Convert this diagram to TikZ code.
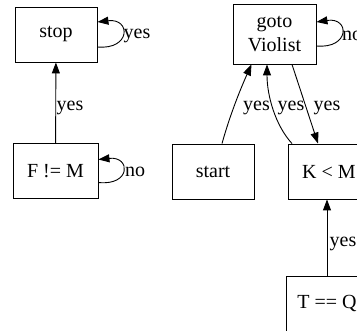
\documentclass[tikz,border=0pt]{standalone}
\usepackage{fontspec}
\setmainfont{Liberation Serif}
\usetikzlibrary{arrows.meta,calc}
\begin{document}
\begin{tikzpicture}[x=1pt,y=-1pt,
  box/.style={draw,line width=0.9pt,minimum width=82pt,minimum height=55pt,inner sep=0pt,font=\fontsize{20}{24}\selectfont,align=center},
  lbl/.style={inner sep=0pt,font=\fontsize{20}{22}\selectfont},
  edge/.style={line width=0.9pt,-{Triangle[length=11pt,width=8pt]}}]
\useasboundingbox (0,0) rectangle (357,331);
\node[box] (stop) at (56,34.5) {stop};
\node[box,minimum width=85pt] (fm) at (55.5,171) {F != M};
\node[box,minimum height=60pt,minimum width=83pt] (goto) at (274.5,34) {goto\\Violist};
\node[box] (start) at (213,171.5) {start};
\node[box] (km) at (329,171.5) {K \textless{} M};
\node[box] (tq) at (327,303.5) {T == Q};
% edges
\draw[edge] (fm) -- (stop);
\node[lbl] (l0) at (70,108) {yes};
\draw[edge] ($(stop.east)+(0,12.5)$) .. controls (131,50) and (131,18) .. ($(stop.east)+(0,-12.5)$);
\node[lbl] (l1) at (137,36) {yes};
\draw[edge] ($(fm.east)+(0,11.5)$) .. controls (131,186) and (131,156) .. ($(fm.east)+(0,-11.5)$);
\node[lbl] (l2) at (135,172) {no};
\draw[edge] ($(goto.east)+(0,12)$) .. controls (350,49) and (350,17) .. ($(goto.east)+(0,-12)$);
\node[lbl] (l3) at (352,36) {no};
\draw[edge] ($(start.north)+(9,0)$) .. controls (230,115) and (240,90) .. ($(goto.south)+(-23,0)$);
\node[lbl] (l4) at (256.5,108) {yes};
\draw[edge] ($(km.north)+(-37,0)$) .. controls (275,125) and (267,95) .. ($(goto.south)+(-7.5,0)$);
\node[lbl] (l5) at (291,108) {yes};
\draw[edge] ($(goto.south)+(17.5,0)$) -- ($(km.north)+(-11,0)$);
\node[lbl] (l6) at (327,108) {yes};
\draw[edge] (tq.north) -- (tq.north |- km.south);
\node[lbl] (l7) at (343,244) {yes};
\end{tikzpicture}
\end{document}
